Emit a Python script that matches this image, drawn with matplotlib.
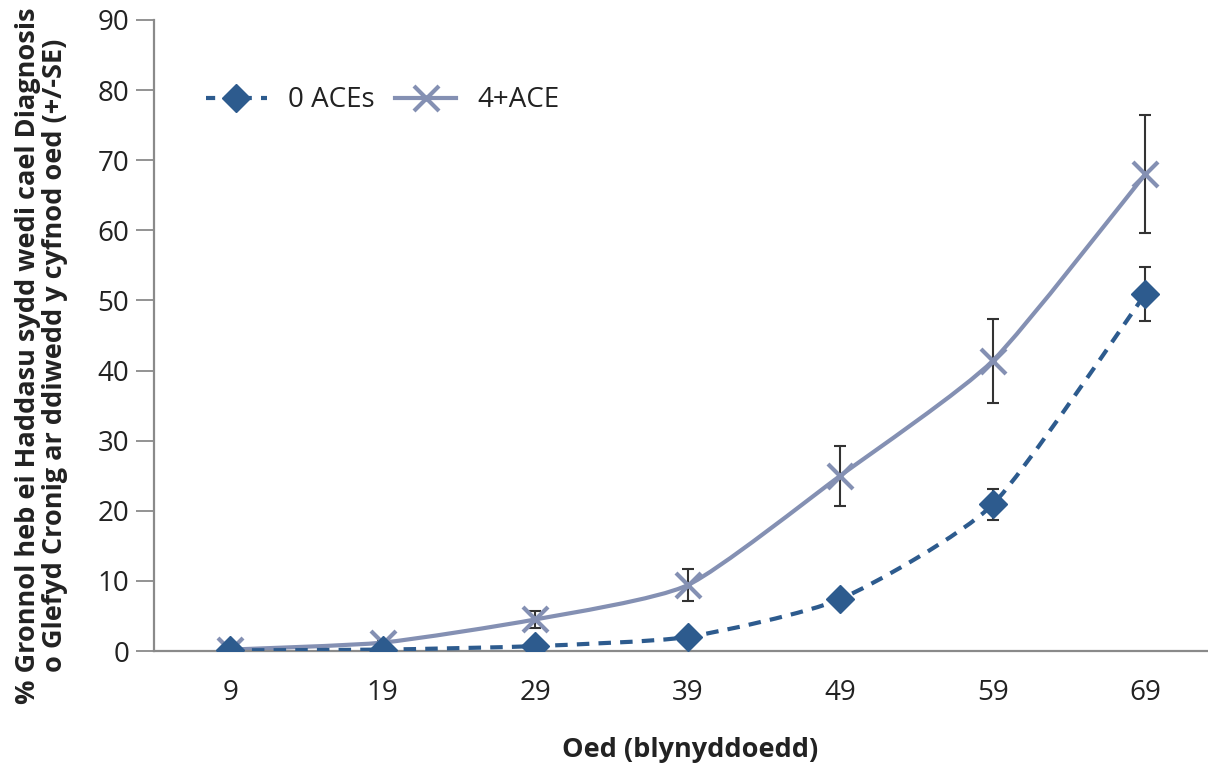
import numpy as np
import matplotlib
matplotlib.use("Agg")
import matplotlib.pyplot as plt
from matplotlib.path import Path
from matplotlib.patches import PathPatch
from matplotlib.lines import Line2D

plt.rcParams['font.family'] = ['Open Sans', 'DejaVu Sans']

ages = ["9", "19", "29", "39", "49", "59", "69"]
aces0 = [0.1, 0.2, 0.7, 2.0, 7.4, 20.9, 50.9]
aces0_se = [0.0, 0.1, 0.2, 0.4, 0.7, 2.2, 3.8]
aces4 = [0.2, 1.2, 4.5, 9.4, 25.0, 41.4, 68.0]
aces4_se = [0.0, 0.4, 1.2, 2.3, 4.3, 6.0, 8.4]

c0 = "#2d5b8e"
c4 = "#8490b3"
ebar = "#333333"
txt = "#222222"

fig = plt.figure(figsize=(12.08, 7.65), dpi=100)
ax = fig.add_axes([154 / 1208, 114 / 765, 1054 / 1208, 631 / 765])

x = np.arange(len(ages))


def smooth_path(xs, ys, k=10.0):
    """Gently smoothed Bezier path through the points."""
    pts = np.column_stack([xs, ys]).astype(float)
    verts = [pts[0]]
    codes = [Path.MOVETO]
    n = len(pts)
    for i in range(n - 1):
        p0 = pts[i - 1] if i > 0 else pts[i]
        p1 = pts[i]
        p2 = pts[i + 1]
        p3 = pts[i + 2] if i + 2 < n else pts[i + 1]
        c1 = p1 + (p2 - p0) / k
        c2 = p2 - (p3 - p1) / k
        verts += [c1, c2, p2]
        codes += [Path.CURVE4] * 3
    return Path(verts, codes)


# error bars underneath everything
for vals, se in [(aces0, aces0_se), (aces4, aces4_se)]:
    ax.errorbar(x, vals, yerr=se, fmt='none', ecolor=ebar, elinewidth=1.5,
                capsize=4, capthick=1.5, zorder=1)

ax.add_patch(PathPatch(smooth_path(x, aces4), facecolor='none', edgecolor=c4,
                       lw=3.0, zorder=2))
ax.add_patch(PathPatch(smooth_path(x, aces0), facecolor='none', edgecolor=c0,
                       lw=3.0, linestyle=(0, (3, 2.2)), zorder=3))

ax.plot(x, aces4, linestyle='none', marker='x', markersize=18, mew=3.0,
        color=c4, zorder=4)
ax.plot(x, aces0, linestyle='none', marker='D', markersize=14, color=c0,
        mec=c0, zorder=5)

ax.set_xlim(-0.5, -0.5 + 1054 / 152.5)
ax.set_ylim(0, 90)
ax.set_yticks(range(0, 91, 10))
ax.set_xticks(x)
ax.set_xticklabels(ages)

for s in ['top', 'right']:
    ax.spines[s].set_visible(False)
for s in ['left', 'bottom']:
    ax.spines[s].set_color('#8a8a8a')
    ax.spines[s].set_linewidth(1.6)

ax.tick_params(axis='y', length=13, width=1.3, color='#8a8a8a', pad=5,
               labelsize=20, labelcolor=txt)
ax.tick_params(axis='x', length=0, pad=20, labelsize=20, labelcolor=txt)

h0 = Line2D([], [], color=c0, lw=3.0, linestyle=(0, (2.2, 2.2)), marker='D',
            markersize=14)
h4 = Line2D([], [], color=c4, lw=3.0, marker='x', markersize=18, mew=3.0)
ax.legend([h0, h4], ["0 ACEs", "4+ACE"], ncol=2, frameon=False, fontsize=20,
          loc='upper left', bbox_to_anchor=(0.049, 0.895), handlelength=2.2,
          columnspacing=0.75, handletextpad=0.75, labelcolor=txt,
          borderaxespad=0, borderpad=0)

fig.text(42 / 1208, 0.535,
         "% Gronnol heb ei Haddasu sydd wedi cael Diagnosis\n"
         "o Glefyd Cronig ar ddiwedd y cyfnod oed (+/-SE)",
         rotation=90, ha='center', va='center', fontsize=19.5,
         fontweight='bold', color=txt, linespacing=1.05)
fig.text(690 / 1208, 15 / 765, "Oed (blynyddoedd)",
         ha='center', va='center', fontsize=19.5, fontweight='bold',
         color=txt)

fig.savefig("out.png", dpi=100)
